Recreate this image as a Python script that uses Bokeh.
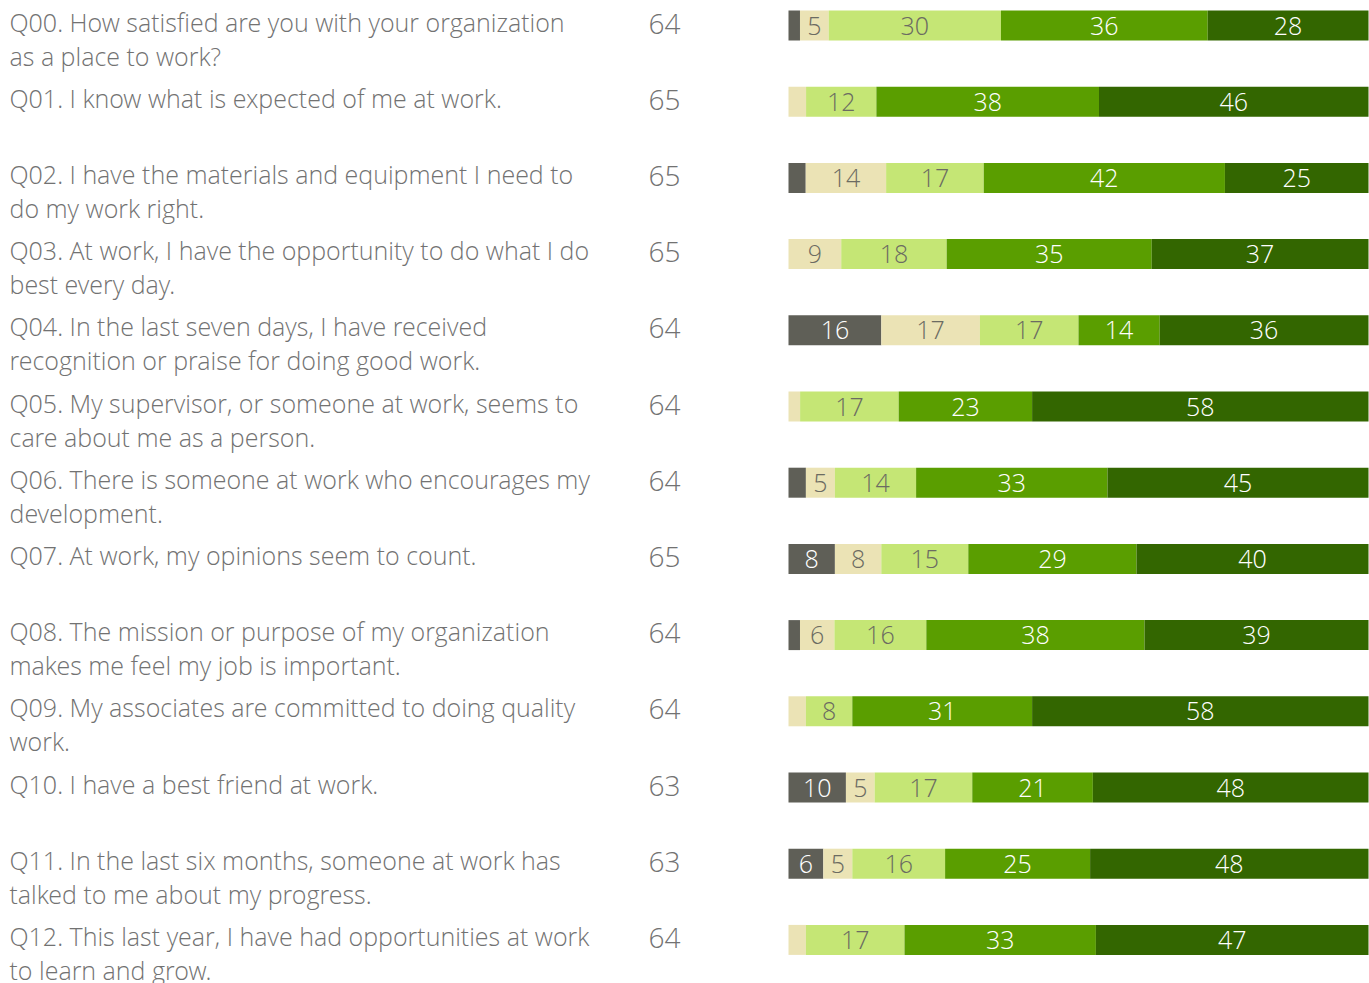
from bokeh.plotting import figure
from bokeh.models import ColumnDataSource, Range1d
from bokeh.core.properties import value
from bokeh.embed import file_html
from bokeh.resources import INLINE

questions = [
    "Q00. How satisfied are you with your organization\nas a place to work?",
    "Q01. I know what is expected of me at work.",
    "Q02. I have the materials and equipment I need to\ndo my work right.",
    "Q03. At work, I have the opportunity to do what I do\nbest every day.",
    "Q04. In the last seven days, I have received\nrecognition or praise for doing good work.",
    "Q05. My supervisor, or someone at work, seems to\ncare about me as a person.",
    "Q06. There is someone at work who encourages my\ndevelopment.",
    "Q07. At work, my opinions seem to count.",
    "Q08. The mission or purpose of my organization\nmakes me feel my job is important.",
    "Q09. My associates are committed to doing quality\nwork.",
    "Q10. I have a best friend at work.",
    "Q11. In the last six months, someone at work has\ntalked to me about my progress.",
    "Q12. This last year, I have had opportunities at work\nto learn and grow.",
]
counts = [64, 65, 65, 65, 64, 64, 64, 65, 64, 64, 63, 63, 64]
strongly_disagree = [2, 0, 3, 0, 16, 0, 3, 8, 2, 0, 10, 6, 0]
disagree = [5, 3, 14, 9, 17, 2, 5, 8, 6, 3, 5, 5, 3]
neutral = [30, 12, 17, 18, 17, 17, 14, 15, 16, 8, 17, 16, 17]
agree = [36, 38, 42, 35, 14, 23, 33, 29, 38, 31, 21, 25, 33]
strongly_agree = [28, 46, 25, 37, 36, 58, 45, 40, 39, 58, 48, 48, 47]

series = [strongly_disagree, disagree, neutral, agree, strongly_agree]
colors = ["#5f5f57", "#ebe3b5", "#c5e675", "#5a9e00", "#336600"]
label_colors = ["#ffffff", "#6b6b62", "#6b6b62", "#ffffff", "#ffffff"]

FONT = "Open Sans Light"
TEXT_COLOR = "#727272"

# layout (pixels)
W, H = 1369, 983
bar_x0_px = 788
px_per_unit = 5.8
row0_px = 25
row_step = 76.2

x_start = -bar_x0_px / px_per_unit
x_end = (W - bar_x0_px) / px_per_unit
y_top = -row0_px / row_step
y_bottom = (H - row0_px) / row_step

p = figure(width=W, height=H, output_backend="svg", toolbar_location=None,
           x_range=Range1d(x_start, x_end), y_range=Range1d(y_bottom, y_top),
           min_border=0, outline_line_color=None)
p.axis.visible = False
p.grid.visible = False
p.background_fill_color = "white"
p.border_fill_color = "white"

n = len(questions)
rows = list(range(n))
totals = [sum(s[i] for s in series) for i in rows]

left = [0.0] * n
for k, s in enumerate(series):
    widths = [s[i] * 100.0 / totals[i] for i in rows]
    right = [left[i] + widths[i] for i in rows]
    src = ColumnDataSource(dict(y=rows, left=left, right=right))
    p.hbar(y="y", left="left", right="right", height=30 / row_step, source=src,
           fill_color=colors[k], line_color=None)
    lx, ly, lt = [], [], []
    for i in rows:
        if s[i] >= 4:
            lx.append((left[i] + right[i]) / 2)
            ly.append(i)
            lt.append(str(s[i]))
    p.text(x=lx, y=ly, text=lt, text_align="center", text_baseline="middle",
           text_font=value(FONT), text_font_size="25px", text_color=label_colors[k])
    left = right

# question texts
l1x, l1y, l1t, l2x, l2y, l2t = [], [], [], [], [], []
for i, q in enumerate(questions):
    parts = q.split("\n")
    l1x.append(x_start); l1y.append(i); l1t.append(parts[0])
    if len(parts) > 1:
        l2x.append(x_start); l2y.append(i); l2t.append(parts[1])
p.text(x=l1x, y=l1y, text=l1t, x_offset=9, y_offset=-4, text_align="left",
       text_baseline="middle", text_font=value(FONT), text_font_size="25px",
       text_color=TEXT_COLOR)
p.text(x=l2x, y=l2y, text=l2t, x_offset=9, y_offset=30, text_align="left",
       text_baseline="middle", text_font=value(FONT), text_font_size="25px",
       text_color=TEXT_COLOR)

# counts
cx = (664 - bar_x0_px) / px_per_unit
p.text(x=[cx] * n, y=rows, text=[str(c) for c in counts], y_offset=-2,
       text_align="center", text_baseline="middle", text_font=value(FONT),
       text_font_size="28px", text_color=TEXT_COLOR)

open("out.html", "w").write(file_html(p, INLINE))
